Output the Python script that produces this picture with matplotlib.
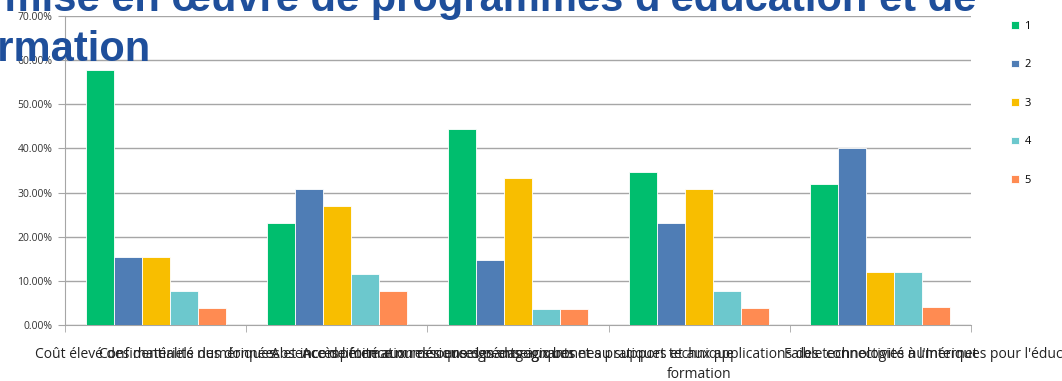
import matplotlib.pyplot as plt
import numpy as np

# données du graphique
categories = [
    "Coût élevé des matériels numériques",
    "Confidentialité des données et incompétence numérique des enseignants",
    "Accès limité aux ressources pédagogiques et au support technique",
    "Absence de formation des enseignants aux bonnes pratiques et aux applications des technologies numériques pour l'éducation et la\nformation",
    "Faible connectivité à l'Internet",
]
series_names = ['1', '2', '3', '4', '5']
s1 = [57.69, 23.08, 44.44, 34.62, 32.00]
s2 = [15.38, 30.77, 14.81, 23.08, 40.00]
s3 = [15.38, 26.92, 33.33, 30.77, 12.00]
s4 = [7.69, 11.54, 3.70, 7.69, 12.00]
s5 = [3.85, 7.69, 3.70, 3.85, 4.00]
colors = ['#00BE6E', '#4F7DB5', '#F8BE00', '#6CC8CD', '#FF8B52']
title_lines = ["la mise en œuvre de programmes d'éducation et de", "formation"]

plt.rcParams['font.family'] = ['Open Sans', 'DejaVu Sans']

W, H = 1062, 381
fig = plt.figure(figsize=(W / 100, H / 100), dpi=100)
ax = fig.add_axes([65 / W, 56 / H, 906 / W, 309 / H])

x = np.arange(len(categories))
width = 0.1545
for i, (vals, name) in enumerate(zip([s1, s2, s3, s4, s5], series_names)):
    ax.bar(x + (i - 2) * width, vals, width, color=colors[i], edgecolor='white',
           linewidth=0.6, label=name, zorder=3)

ax.set_xlim(-0.5, len(categories) - 0.5)
ax.set_ylim(0, 70)
ax.set_yticks(np.arange(0, 71, 10))
ax.set_yticklabels([f'{v:.2f}%' for v in np.arange(0, 71, 10)], fontsize=7.5, color='#333333')
ax.yaxis.grid(True, color='#A6A6A6', linewidth=1, zorder=0)

ax.set_xticks(x)
ax.set_xticklabels(categories, fontsize=10, color='#222222', linespacing=1.4)
ax.set_xticks(np.arange(-0.5, len(categories)), minor=True)
ax.tick_params(axis='x', which='major', length=0, pad=16)
ax.tick_params(axis='x', which='minor', length=5, color='#A6A6A6')
ax.tick_params(axis='y', length=5, color='#A6A6A6', pad=4)

for side in ['top', 'right']:
    ax.spines[side].set_visible(False)
for side in ['left', 'bottom']:
    ax.spines[side].set_color('#A6A6A6')

fig.legend(loc='upper left', bbox_to_anchor=(1011 / W, 1 - 21 / H), frameon=False,
           fontsize=8, handlelength=0.7, handleheight=0.7, handletextpad=0.5,
           labelspacing=2.47, borderpad=0, borderaxespad=0)

# titre (coupé par le bord de l'image comme dans l'original)
for line, base in zip(title_lines, [11, 61]):
    fig.text(-42 / W, 1 - base / H, line, fontsize=30, fontweight='bold',
             color='#1F4F9B', family='Liberation Sans', va='baseline', ha='left')

plt.savefig('out.png', dpi=100)
plt.close()
